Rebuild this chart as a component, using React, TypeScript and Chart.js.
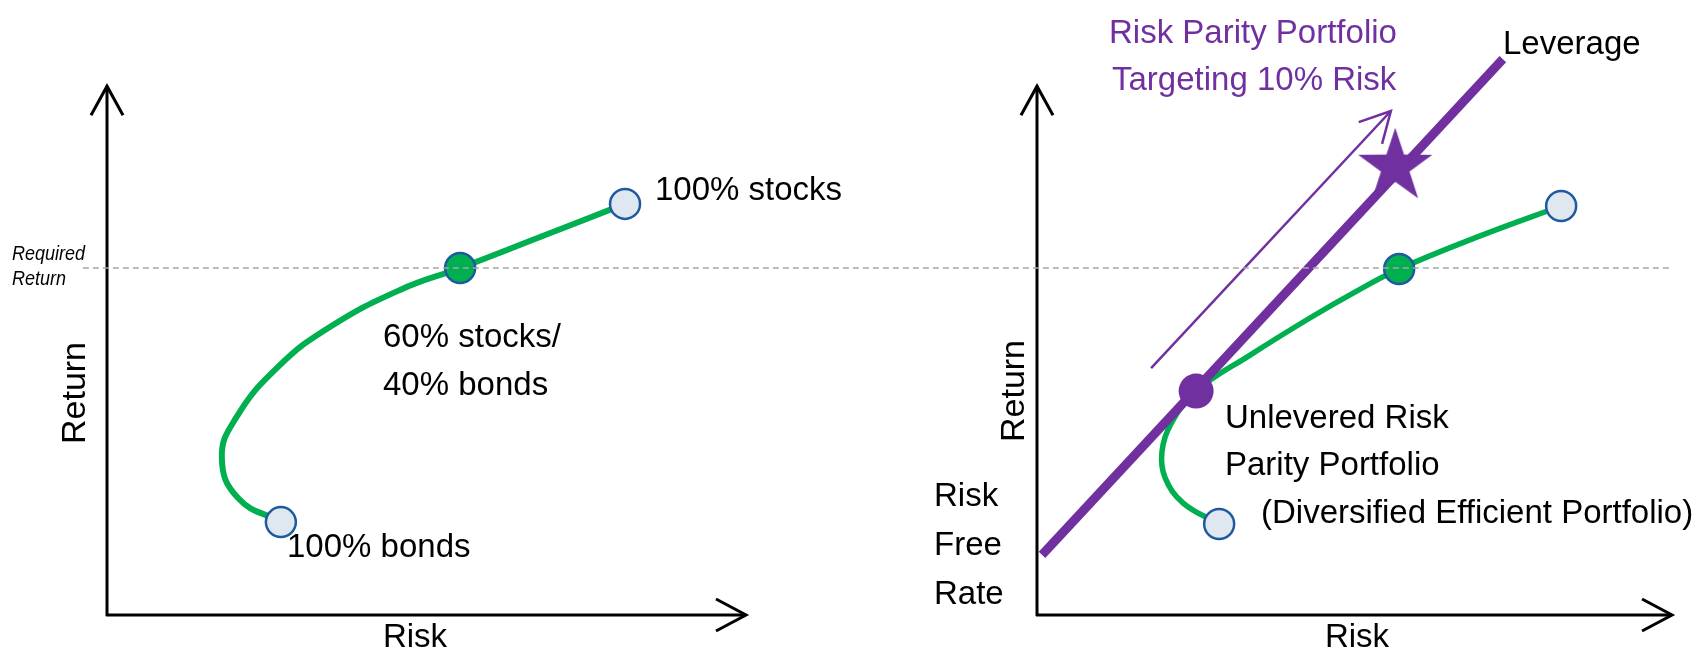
import React, { useEffect, useRef } from "react";
import { Chart, registerables } from "chart.js";
Chart.register(...registerables);

// ---------- DATA (risk / return units) ----------
// Left panel: classic efficient frontier
const leftFrontierRisk = [4.83, 3.64, 3.19, 3.58, 4.75, 6.19, 8.14, 9.81, 12.03, 14.39];
const leftFrontierReturn = [2.58, 3.25, 4.36, 5.47, 6.89, 8.0, 9.03, 9.64, 10.5, 11.42];
const leftPointLabels = ["100% bonds", "60% stocks/40% bonds", "100% stocks"];
const leftPointRisk = [4.83, 9.81, 14.39];
const leftPointReturn = [2.58, 9.64, 11.42];

// Right panel: frontier + leverage line
const rightFrontierRisk = [5.06, 4.06, 3.56, 3.47, 3.72, 4.42, 5.92, 7.58, 8.83, 10.06, 12.31, 14.56];
const rightFrontierReturn = [2.53, 3.11, 3.81, 4.53, 5.31, 6.22, 7.22, 8.25, 8.97, 9.61, 10.53, 11.36];
const rightPointRisk = [5.06, 10.06, 14.56];
const rightPointReturn = [2.53, 9.61, 11.36];
const leverageRisk = [0.14, 12.94];
const leverageReturn = [1.67, 15.44];
const unleveredRisk = [4.42];
const unleveredReturn = [6.22];
const targetRisk = [9.95];
const targetReturn = [12.45];
const arrowRisk = [3.17, 9.83];
const arrowReturn = [6.86, 14.0];

// Required return (dashed line across both panels)
const requiredReturn = 9.64;
const requiredRiskLeft = [-0.67, 43.47];

// Axis extents
const axisRiskMaxLeft = 17.75;
const axisRiskMaxRight = 17.64;
const axisReturnMax = 14.69;

// ---------- LAYOUT ----------
const W = 1702;
const H = 654;
const PX = 36; // pixels per unit
const ORIGIN_Y = 615;
const ORIGIN_XL = 107;
const ORIGIN_XR = 1037;

const GREEN = "#00b050";
const PURPLE = "#7030a0";
const BLUE = "#1f5aa0";
const LIGHT = "#dfe7f1";
const FONT = '"Liberation Sans", Arial, sans-serif';

function zip(xs: number[], ys: number[]) {
  return xs.map((x, i) => ({ x, y: ys[i] }));
}

function makeStar(R: number, r: number, color: string) {
  const size = Math.ceil(2 * R + 4);
  const c = document.createElement("canvas");
  c.width = size;
  c.height = size;
  const ctx = c.getContext("2d")!;
  ctx.translate(size / 2, size / 2);
  ctx.beginPath();
  for (let i = 0; i < 10; i++) {
    const rad = i % 2 === 0 ? R : r;
    const a = -Math.PI / 2 + (i * Math.PI) / 5;
    const px = Math.cos(a) * rad;
    const py = Math.sin(a) * rad;
    if (i === 0) ctx.moveTo(px, py);
    else ctx.lineTo(px, py);
  }
  ctx.closePath();
  ctx.fillStyle = color;
  ctx.fill();
  return c;
}

const axesPlugin = {
  id: "axesArrows",
  beforeDatasetsDraw(chart: any) {
    const ctx = chart.ctx;
    const y = chart.scales.y;
    const panels = [
      { sc: chart.scales.xL, max: axisRiskMaxLeft },
      { sc: chart.scales.xR, max: axisRiskMaxRight },
    ];
    ctx.save();
    ctx.strokeStyle = "#000";
    ctx.lineWidth = 3;
    ctx.lineCap = "butt";
    for (const p of panels) {
      const x0 = p.sc.getPixelForValue(0);
      const x1 = p.sc.getPixelForValue(p.max);
      const y0 = y.getPixelForValue(0);
      const y1 = y.getPixelForValue(axisReturnMax);
      ctx.beginPath();
      ctx.moveTo(x0, y0 + 1);
      ctx.lineTo(x0, y1);
      ctx.moveTo(x0 - 1, y0);
      ctx.lineTo(x1, y0);
      ctx.stroke();
      ctx.lineJoin = "miter";
      ctx.beginPath();
      ctx.moveTo(x0 - 16, y1 + 29);
      ctx.lineTo(x0, y1);
      ctx.lineTo(x0 + 16, y1 + 29);
      ctx.moveTo(x1 - 30, y0 - 16);
      ctx.lineTo(x1, y0);
      ctx.lineTo(x1 - 30, y0 + 16);
      ctx.stroke();
    }
    ctx.restore();
  },
};

const arrowHeadPlugin = {
  id: "arrowHead",
  afterDatasetsDraw(chart: any) {
    const idx = chart.data.datasets.findIndex((d: any) => d.label === "direction");
    if (idx < 0) return;
    const meta = chart.getDatasetMeta(idx);
    const p0 = meta.data[0];
    const p1 = meta.data[1];
    const ang = Math.atan2(p0.y - p1.y, p0.x - p1.x);
    const len = 34;
    const spread = (28 * Math.PI) / 180;
    const ctx = chart.ctx;
    ctx.save();
    ctx.strokeStyle = PURPLE;
    ctx.lineWidth = 2.5;
    ctx.beginPath();
    ctx.moveTo(p1.x + Math.cos(ang + spread) * len, p1.y + Math.sin(ang + spread) * len);
    ctx.lineTo(p1.x, p1.y);
    ctx.lineTo(p1.x + Math.cos(ang - spread) * len, p1.y + Math.sin(ang - spread) * len);
    ctx.stroke();
    ctx.restore();
  },
};

type Txt = { t: string; x: number; y: number; color?: string; align?: CanvasTextAlign; size?: number };
const texts: Txt[] = [
  { t: "100% stocks", x: 655, y: 200 },
  { t: "60% stocks/", x: 383, y: 347 },
  { t: "40% bonds", x: 383, y: 395 },
  { t: "100% bonds", x: 287, y: 557 },
  { t: "Risk", x: 415, y: 647, align: "center" },
  { t: "Risk", x: 1357, y: 647, align: "center" },
  { t: "Risk Parity Portfolio", x: 1109, y: 43, color: PURPLE },
  { t: "Targeting 10% Risk", x: 1112, y: 90, color: PURPLE },
  { t: "Leverage", x: 1503, y: 54 },
  { t: "Unlevered Risk", x: 1225, y: 428 },
  { t: "Parity Portfolio", x: 1225, y: 475 },
  { t: "(Diversified Efficient Portfolio)", x: 1261, y: 523 },
  { t: "Risk", x: 934, y: 506 },
  { t: "Free", x: 934, y: 555 },
  { t: "Rate", x: 934, y: 604 },
];
const rotated = [
  { t: "Return", x: 76, y: 393 },
  { t: "Return", x: 1015, y: 391 },
];

const textPlugin = {
  id: "texts",
  afterDraw(chart: any) {
    const ctx = chart.ctx;
    ctx.save();
    ctx.textBaseline = "alphabetic";
    for (const tx of texts) {
      ctx.font = `${tx.size || 33}px ${FONT}`;
      ctx.fillStyle = tx.color || "#000";
      ctx.textAlign = tx.align || "left";
      ctx.fillText(tx.t, tx.x, tx.y);
    }
    for (const r of rotated) {
      ctx.save();
      ctx.translate(r.x, r.y);
      ctx.rotate(-Math.PI / 2);
      ctx.font = `34px ${FONT}`;
      ctx.fillStyle = "#000";
      ctx.textAlign = "center";
      ctx.textBaseline = "middle";
      ctx.fillText(r.t, 0, 0);
      ctx.restore();
    }
    // Required Return (italic, narrow)
    const lines = [
      { t: "Required", y: 260 },
      { t: "Return", y: 285 },
    ];
    for (const l of lines) {
      ctx.save();
      ctx.translate(12, l.y);
      ctx.scale(0.9, 1);
      ctx.font = `italic 20px ${FONT}`;
      ctx.fillStyle = "#000";
      ctx.textAlign = "left";
      ctx.fillText(l.t, 0, 0);
      ctx.restore();
    }
    ctx.restore();
  },
};

export default function App() {
  const ref = useRef<HTMLCanvasElement | null>(null);
  useEffect(() => {
    document.body.style.margin = "0";
    const canvas = ref.current!;
    const star = makeStar(39, 15, PURPLE);
    const chart = new Chart(canvas, {
      type: "scatter",
      data: {
        datasets: [
          {
            label: "required",
            data: zip(requiredRiskLeft, [requiredReturn, requiredReturn]),
            xAxisID: "xL",
            showLine: true,
            borderColor: "#a6a6a6",
            borderWidth: 1.6,
            borderDash: [6, 4],
            pointRadius: 0,
            order: 0,
          } as any,
          {
            label: "leftPoints",
            data: zip(leftPointRisk, leftPointReturn),
            xAxisID: "xL",
            pointRadius: 15,
            pointBorderWidth: 2.5,
            pointBackgroundColor: [LIGHT, GREEN, LIGHT],
            pointBorderColor: BLUE,
            order: 1,
          },
          {
            label: "leftFrontier",
            data: zip(leftFrontierRisk, leftFrontierReturn),
            xAxisID: "xL",
            showLine: true,
            borderColor: GREEN,
            borderWidth: 6,
            tension: 0.45,
            pointRadius: 0,
            order: 5,
          },
          {
            label: "rightPoints",
            data: zip(rightPointRisk, rightPointReturn),
            xAxisID: "xR",
            pointRadius: 15,
            pointBorderWidth: 2.5,
            pointBackgroundColor: [LIGHT, GREEN, LIGHT],
            pointBorderColor: BLUE,
            order: 1,
          },
          {
            label: "target",
            data: zip(targetRisk, targetReturn),
            xAxisID: "xR",
            pointStyle: star as any,
            pointRadius: 20,
            order: 2,
          },
          {
            label: "unlevered",
            data: zip(unleveredRisk, unleveredReturn),
            xAxisID: "xR",
            pointRadius: 17.5,
            pointBorderWidth: 0,
            pointBackgroundColor: PURPLE,
            pointBorderColor: PURPLE,
            order: 2,
          },
          {
            label: "leverage",
            data: zip(leverageRisk, leverageReturn),
            xAxisID: "xR",
            showLine: true,
            borderColor: PURPLE,
            borderWidth: 9,
            pointRadius: 0,
            order: 3,
          },
          {
            label: "direction",
            data: zip(arrowRisk, arrowReturn),
            xAxisID: "xR",
            showLine: true,
            borderColor: PURPLE,
            borderWidth: 2.5,
            pointRadius: 0,
            order: 3,
          },
          {
            label: "rightFrontier",
            data: zip(rightFrontierRisk, rightFrontierReturn),
            xAxisID: "xR",
            showLine: true,
            borderColor: GREEN,
            borderWidth: 5.5,
            tension: 0.4,
            pointRadius: 0,
            order: 5,
          },
        ],
      },
      options: {
        responsive: false,
        animation: false,
        layout: { padding: 0, autoPadding: false },
        plugins: { legend: { display: false }, tooltip: { enabled: false }, title: { display: false } },
        events: [],
        scales: {
          xL: { type: "linear", display: false, min: -ORIGIN_XL / PX, max: (W - ORIGIN_XL) / PX },
          xR: { type: "linear", display: false, min: -ORIGIN_XR / PX, max: (W - ORIGIN_XR) / PX },
          y: { type: "linear", display: false, min: -(H - ORIGIN_Y) / PX, max: ORIGIN_Y / PX },
        },
      } as any,
      plugins: [axesPlugin, arrowHeadPlugin, textPlugin],
    });
    return () => chart.destroy();
  }, []);
  return (
    <div style={{ width: W, height: H, background: "#fff" }}>
      <canvas ref={ref} width={W} height={H} style={{ display: "block" }} />
    </div>
  );
}
